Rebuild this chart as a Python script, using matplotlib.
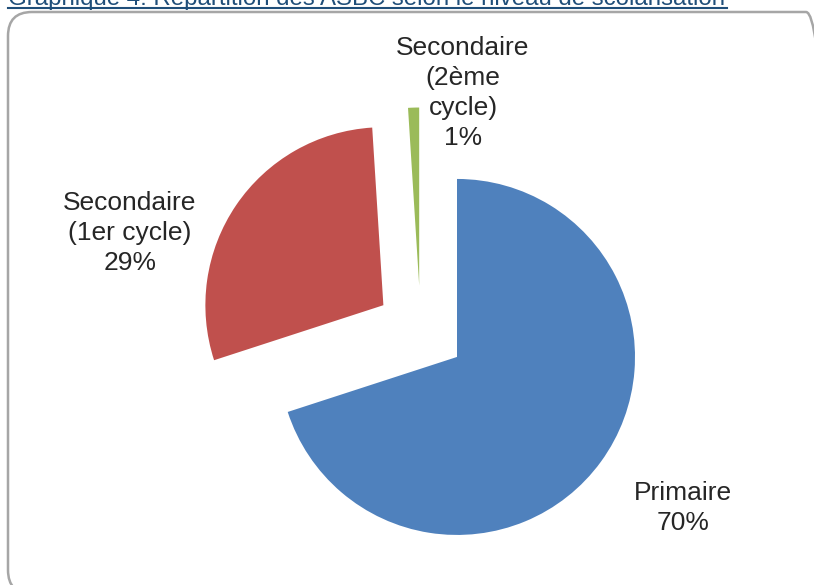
import matplotlib.pyplot as plt
from matplotlib.patches import FancyBboxPatch

plt.rcParams['font.family'] = ['Liberation Sans', 'DejaVu Sans']

# Données
categories = ["Primaire", "Secondaire\n(1er cycle)", "Secondaire\n(2ème\ncycle)"]
pourcentages = [70, 29, 1]
couleurs = ["#4F81BD", "#C0504D", "#9BBB59"]
titre = "Graphique 4: Répartition des ASBC selon le niveau de scolarisation"

# Figure en coordonnées pixels (y vers le haut)
W, H = 814, 585
fig = plt.figure(figsize=(W / 100, H / 100), dpi=100)
ax = fig.add_axes([0, 0, 1, 1])

# Camembert éclaté, départ à midi, sens horaire
centre = (420.6, H - 330.5)
rayon = 178
ax.pie(pourcentages, colors=couleurs, startangle=90, counterclock=False,
       explode=[45, 45, 45], radius=rayon, center=centre, frame=True,
       wedgeprops=dict(linewidth=0))

# Étiquettes (nom + pourcentage)
pos_etiquettes = [(683, H - 508), (130, H - 233), (463, H - 93)]
for cat, p, (x, y) in zip(categories, pourcentages, pos_etiquettes):
    ax.text(x, y, f"{cat}\n{p}%", ha="center", va="center", fontsize=19,
            color="#262626", linespacing=1.3)

# Cadre arrondi du graphique (bords droit et bas hors image)
cadre = FancyBboxPatch((8, H - 594), 822, 582, boxstyle="round,pad=0,rounding_size=24",
                       facecolor="none", edgecolor="#A6A6A6", linewidth=1.8)
ax.add_patch(cadre)

# Titre coupé en haut, souligné
ax.text(8, H - 5, titre, ha="left", va="baseline", fontsize=17.3, color="#1F4E79")
ax.plot([8, 727], [H - 8, H - 8], color="#1F4E79", linewidth=1.5)

ax.set_xlim(0, W)
ax.set_ylim(0, H)
ax.set_aspect("equal")
ax.axis("off")

fig.savefig("out.png", dpi=100)
